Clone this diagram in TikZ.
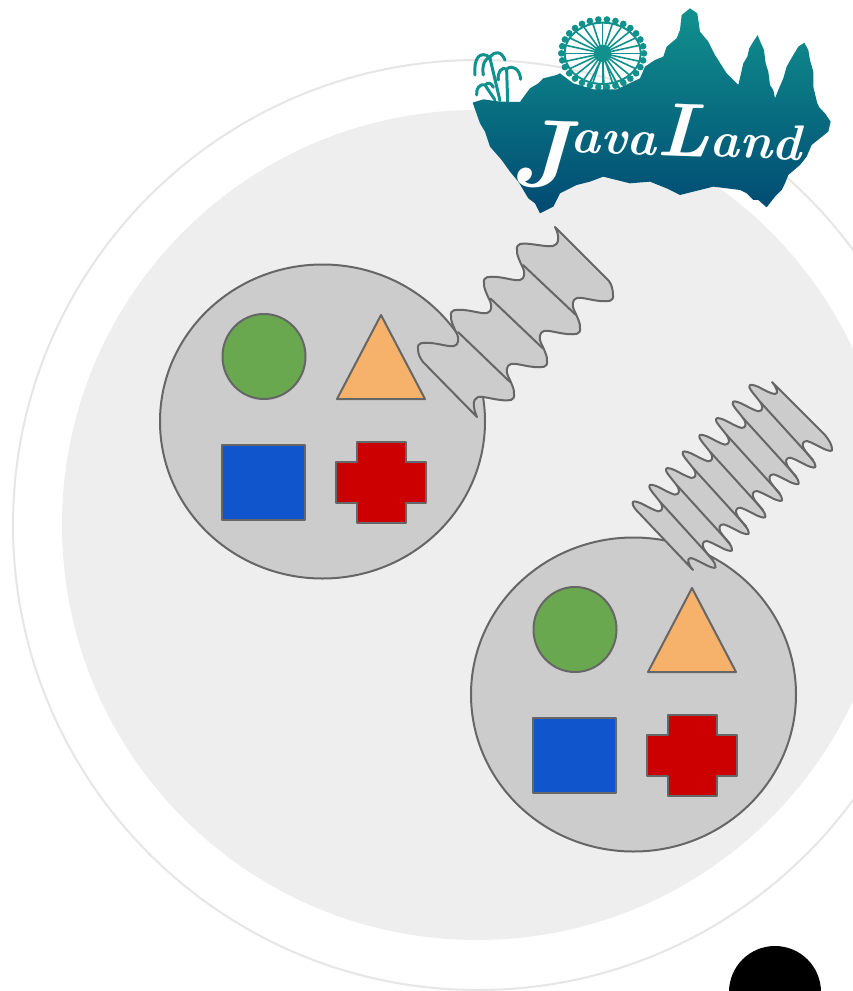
\documentclass[tikz,border=0pt]{standalone}
\definecolor{ringline}{HTML}{E6E6E6}
\definecolor{discfill}{HTML}{EEEEEE}
\definecolor{blobfill}{HTML}{CCCCCC}
\definecolor{edgeline}{HTML}{666666}
\definecolor{shapeA}{HTML}{6AA84F}
\definecolor{shapeB}{HTML}{F6B26B}
\definecolor{shapeC}{HTML}{1155CC}
\definecolor{shapeD}{HTML}{CC0000}
\definecolor{logoTop}{HTML}{11918E}
\definecolor{logoMid}{HTML}{087488}
\definecolor{logoBot}{HTML}{004A72}
\begin{document}
\begin{tikzpicture}[x=1pt,y=-1pt,line cap=round,line join=round,
  shapeedge/.style={draw=edgeline,line width=2pt},
  logostroke/.style={draw=logoTop,line width=1.1pt}]
\useasboundingbox (0,0) rectangle (853,991);
\clip (0,0) rectangle (853,991);
% Background rings and the black corner disc.
\fill[white] (0,0) rectangle (853,991);
\draw[ringline,line width=2pt] (478,525) circle[radius=465];
\fill[discfill] (477,525) circle[radius=415];
\fill[black] (775,992) circle[radius=46];
% Two blobs with the same four shapes.
\foreach \dx/\dy in {0/0,311/273}{
\begin{scope}[shift={(\dx,\dy)}]
 \filldraw[fill=blobfill,shapeedge] (322.5,421.5) ellipse[x radius=162.5,y radius=157];
 \filldraw[fill=shapeA,shapeedge] (264,356.5) ellipse[x radius=41.5,y radius=42.5];
 \filldraw[fill=shapeB,shapeedge] (381,315)--(425,399)--(337,399)--cycle;
 \filldraw[fill=shapeC,shapeedge] (222,445) rectangle (305,520);
 \filldraw[fill=shapeD,shapeedge] (357,442)--(406,442)--(406,462)--(426,462)--(426,503)--(406,503)
  --(406,523)--(357,523)--(357,503)--(336,503)--(336,462)--(357,462)--cycle;
\end{scope}
}
% Wide spring.
\filldraw[fill=blobfill,shapeedge] (555,227)--(609,281) .. controls (612,285) and (613,291) .. (613,295)
 \foreach \n in {0,1,2}{
  .. controls ({614-33*\n},{302+33*\n}) and ({608-33*\n},{301.5+33*\n}) .. ({600-33*\n},{301+33*\n})
  .. controls ({590-33*\n},{300+33*\n}) and ({582-33*\n},{297+33*\n}) .. ({577-33*\n},{298+33*\n})
  .. controls ({572-33*\n},{299+33*\n}) and ({572-33*\n},{306+33*\n}) .. ({574-33*\n},{310+33*\n})
  .. controls ({577-33*\n},{316+33*\n}) and ({581-33*\n},{325+33*\n}) .. ({580-33*\n},{328+33*\n})
 }
 .. controls (515,401) and (509,401) .. (501,400) .. controls (491,399) and (483,396) .. (478,397)
 .. controls (472,399) and (473,408) .. (477,417)
 --(423,362) .. controls (420,358) and (418,354) .. (418,349)
 \foreach \n in {0,1,2}{
  .. controls ({417+33*\n},{342-33*\n}) and ({423+33*\n},{342.5-33*\n}) .. ({431+33*\n},{343-33*\n})
  .. controls ({441+33*\n},{344-33*\n}) and ({449+33*\n},{347-33*\n}) .. ({454+33*\n},{346-33*\n})
  .. controls ({459+33*\n},{345-33*\n}) and ({459+33*\n},{338-33*\n}) .. ({457+33*\n},{334-33*\n})
  .. controls ({454+33*\n},{328-33*\n}) and ({450+33*\n},{319-33*\n}) .. ({451+33*\n},{316-33*\n})
 }
 .. controls (516,243) and (522,243) .. (530,244) .. controls (540,245) and (548,247) .. (553,246)
 .. controls (559,245) and (560,236) .. (555,227)--cycle;
\foreach \n in {0,1,2}
 \draw[shapeedge] ({458+32.5*\n},{332-33.5*\n})--({510+33*\n},{382-33.5*\n});
% Narrow spring.
\filldraw[fill=blobfill,shapeedge] (772,382)--(825,435) .. controls (829,440) and (832,445) .. (832,449)
 \foreach \n in {0,...,6}{
  .. controls ({833-16.67*\n},{452+16.67*\n}) and ({829-16.67*\n},{451+16.67*\n}) .. ({824-16.67*\n},{449+16.67*\n})
  .. controls ({818-16.67*\n},{446+16.67*\n}) and ({811-16.67*\n},{442+16.67*\n}) .. ({807-16.67*\n},{441+16.67*\n})
  .. controls ({802-16.67*\n},{441+16.67*\n}) and ({802-16.67*\n},{445+16.67*\n}) .. ({804-16.67*\n},{449+16.67*\n})
  .. controls ({808-16.67*\n},{455+16.67*\n}) and ({816-16.67*\n},{463+16.67*\n}) .. ({815.33-16.67*\n},{465.67+16.67*\n})
 }
 .. controls (717,569) and (713,568) .. (708,566) .. controls (702,563) and (695,559) .. (691,558)
 .. controls (686,558) and (688,564) .. (693,570)
 --(639,513) .. controls (635,509) and (632.7,506) .. (632.7,503.3)
 \foreach \n in {0,...,6}{
  .. controls ({632+16.67*\n},{500.3-16.67*\n}) and ({636+16.67*\n},{501.3-16.67*\n}) .. ({641+16.67*\n},{503.3-16.67*\n})
  .. controls ({647+16.67*\n},{506.3-16.67*\n}) and ({654+16.67*\n},{510.3-16.67*\n}) .. ({658+16.67*\n},{511.3-16.67*\n})
  .. controls ({663+16.67*\n},{511.3-16.67*\n}) and ({663+16.67*\n},{507.3-16.67*\n}) .. ({661+16.67*\n},{503.3-16.67*\n})
  .. controls ({657+16.67*\n},{497.3-16.67*\n}) and ({649+16.67*\n},{489.3-16.67*\n}) .. ({649.37+16.67*\n},{486.63-16.67*\n})
 }
 .. controls (749,383.7) and (753,384.7) .. (758,386.7) .. controls (764,389.7) and (771,394) .. (775,394)
 .. controls (779,394) and (777,388) .. (772,382)--cycle;
\foreach \n in {0,...,6}
 \draw[shapeedge] ({660+16.67*\n},{501.7-16.67*\n})--({713+16.67*\n},{560-16.67*\n});
% Logo, traced in zoomed pixels.
\begin{scope}[shift={(460,0)},x=.3333pt,y=-.3333pt]
 \foreach \a in {0,15,...,345}
  \draw[logostroke,line width=1.6pt] (428,160)--({428+114*cos(\a)},{160+92*sin(\a)});
 \draw[logostroke,line width=2pt] (428,160) ellipse[x radius=114,y radius=92];
 \foreach \a in {0,12,...,348}
  \fill[logoTop] ({428+124*cos(\a)},{160+102*sin(\a)}) circle[radius=10];
 \fill[logoTop] (428,160) circle[radius=26];
 \draw[logostroke,line width=1.8pt] (428,170)--(380,268) (428,170)--(432,270) (428,170)--(480,268);
 % palms
 \draw[logostroke,line width=3pt] (90,175)--(120,302) (140,210)--(143,305) (75,255)--(105,300)
  (90,172) .. controls (60,150) and (40,175) .. (45,225)
  (90,172) .. controls (105,150) and (125,155) .. (135,180)
  (90,172) .. controls (75,175) and (65,195) .. (70,225)
  (140,207) .. controls (125,200) and (112,215) .. (115,240)
  (140,207) .. controls (160,192) and (180,210) .. (182,238)
  (75,255) .. controls (60,250) and (48,265) .. (50,285)
  (75,255) .. controls (85,245) and (95,250) .. (100,262);
 % island outline
 \shade[top color=logoTop,middle color=logoMid,bottom color=logoBot] (38,308)--(70,298)--(120,305)--(180,306)
  --(195,285)--(210,265)--(235,250)--(250,235)--(290,225)--(300,220)--(340,250)--(400,268)--(470,268)--(540,235)
  --(555,200)--(585,180)--(610,170)--(620,140)--(650,115)--(660,90)--(665,45)--(690,25)--(712,40)--(720,95)
  --(745,125)--(765,165)--(800,220)--(835,255)--(842,225)--(850,190)--(862,170)--(868,145)--(880,125)--(893,105)
  --(903,130)--(912,150)--(917,190)--(925,215)--(930,255)--(940,270)--(945,295)--(955,270)--(970,235)--(980,200)
  --(1000,165)--(1015,140)--(1033,128)--(1045,150)--(1050,180)--(1060,215)--(1060,260)--(1072,310)--(1078,322)
  --(1095,340)--(1112,365)--(1105,395)--(1080,415)--(1055,435)--(1040,470)--(1020,495)--(985,525)--(975,550)
  --(965,570)--(945,590)--(920,622)--(895,600)--(880,600)--(860,580)--(840,570)--(800,565)--(760,560)--(720,570)
  --(660,585)--(620,565)--(570,545)--(510,550)--(470,540)--(430,530)--(390,545)--(350,555)--(300,580)--(290,600)
  --(280,620)--(240,640)--(225,610)--(205,595)--(175,545)--(150,515)--(125,480)--(90,440)--(75,395)--(60,370)--cycle;
\end{scope}
\node[white,anchor=base west,font=\bfseries\itshape,inner sep=0pt,rotate=-2] (logotext) at (512,150)
 {\fontsize{96}{96}\selectfont\raisebox{-36pt}{J}\fontsize{50}{50}\selectfont ava\fontsize{76}{76}\selectfont L\fontsize{50}{50}\selectfont and};
\end{tikzpicture}
\end{document}
